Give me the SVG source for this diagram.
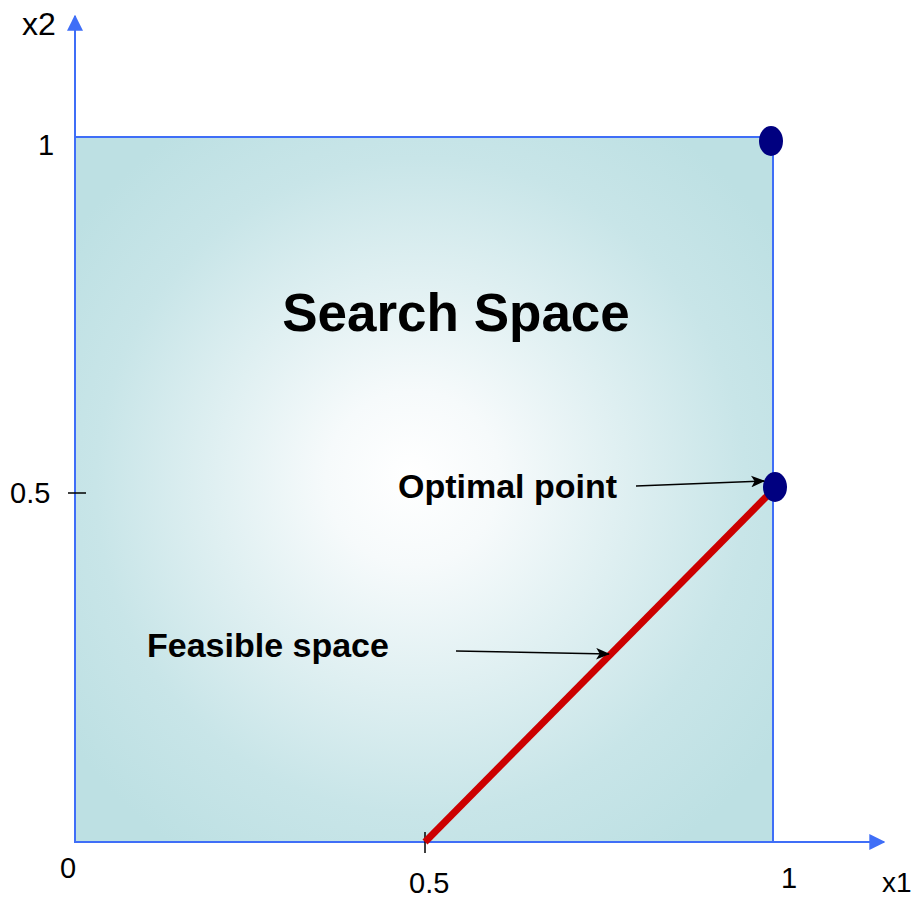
<svg xmlns="http://www.w3.org/2000/svg" width="919" height="900" viewBox="0 0 919 900">
<style>
.lbl{font-family:"Liberation Sans",Arial,sans-serif;fill:#000}
.b{font-weight:bold}
.axis{stroke:#3f6ef7;stroke-width:2;fill:none}
.ptr{stroke:#000;stroke-width:1.5;fill:none}
</style>
<defs>
<radialGradient id="bg" cx="0.5" cy="0.5" r="0.62" fx="0.48" fy="0.48">
<stop offset="0" stop-color="#ffffff"/>
<stop offset="0.2" stop-color="#f6fafb"/>
<stop offset="0.75" stop-color="#c8e5e8"/>
<stop offset="1" stop-color="#bde0e3"/>
</radialGradient>
<marker id="ah" viewBox="0 0 12 10" refX="11" refY="5" markerWidth="14" markerHeight="12" markerUnits="userSpaceOnUse" orient="auto">
<path d="M0,0 L12,5 L0,10 L3,5 Z" fill="#000"/>
</marker>
<marker id="ab" viewBox="0 0 12 12" refX="11" refY="6" markerWidth="16" markerHeight="16" markerUnits="userSpaceOnUse" orient="auto">
<path d="M0,0 L12,6 L0,12 Z" fill="#3f6ef7"/>
</marker>
</defs>
<g id="search-space">
<rect x="75" y="137" width="698" height="705" fill="url(#bg)" stroke="#3f6ef7" stroke-width="2"/>
<text class="lbl b" x="456" y="331" font-size="53" text-anchor="middle">Search Space</text>
</g>
<g id="axes">
<line class="axis" x1="75" y1="842" x2="75" y2="16" marker-end="url(#ab)"/>
<line class="axis" x1="75" y1="842" x2="884" y2="842" marker-end="url(#ab)"/>
<line x1="68" y1="493" x2="86" y2="493" stroke="#000" stroke-width="1.5"/>
<line x1="425" y1="832" x2="425" y2="853" stroke="#000" stroke-width="1.5"/>
<text class="lbl" x="22" y="35" font-size="32">x2</text>
<text class="lbl" x="38" y="155" font-size="29">1</text>
<text class="lbl" x="10" y="503" font-size="29">0.5</text>
<text class="lbl" x="60" y="878" font-size="29">0</text>
<text class="lbl" x="409" y="893" font-size="29">0.5</text>
<text class="lbl" x="781" y="888" font-size="29">1</text>
<text class="lbl" x="882" y="892" font-size="28">x1</text>
</g>
<g id="feasible-space">
<line x1="425" y1="842" x2="772" y2="491" stroke="#cc0000" stroke-width="7"/>
<text class="lbl b" x="147" y="657" font-size="34">Feasible space</text>
</g>
<g id="optimal-point">
<ellipse cx="775" cy="487" rx="12" ry="15" fill="#000080"/>
<text class="lbl b" x="398" y="498" font-size="34">Optimal point</text>
</g>
<g id="corner-point">
<ellipse cx="771" cy="141" rx="12" ry="15" fill="#000080"/>
</g>
<g id="connectors">
<line class="ptr" x1="636" y1="486" x2="764" y2="481" marker-end="url(#ah)"/>
<line class="ptr" x1="456" y1="651" x2="609" y2="654" marker-end="url(#ah)"/>
</g>
</svg>
